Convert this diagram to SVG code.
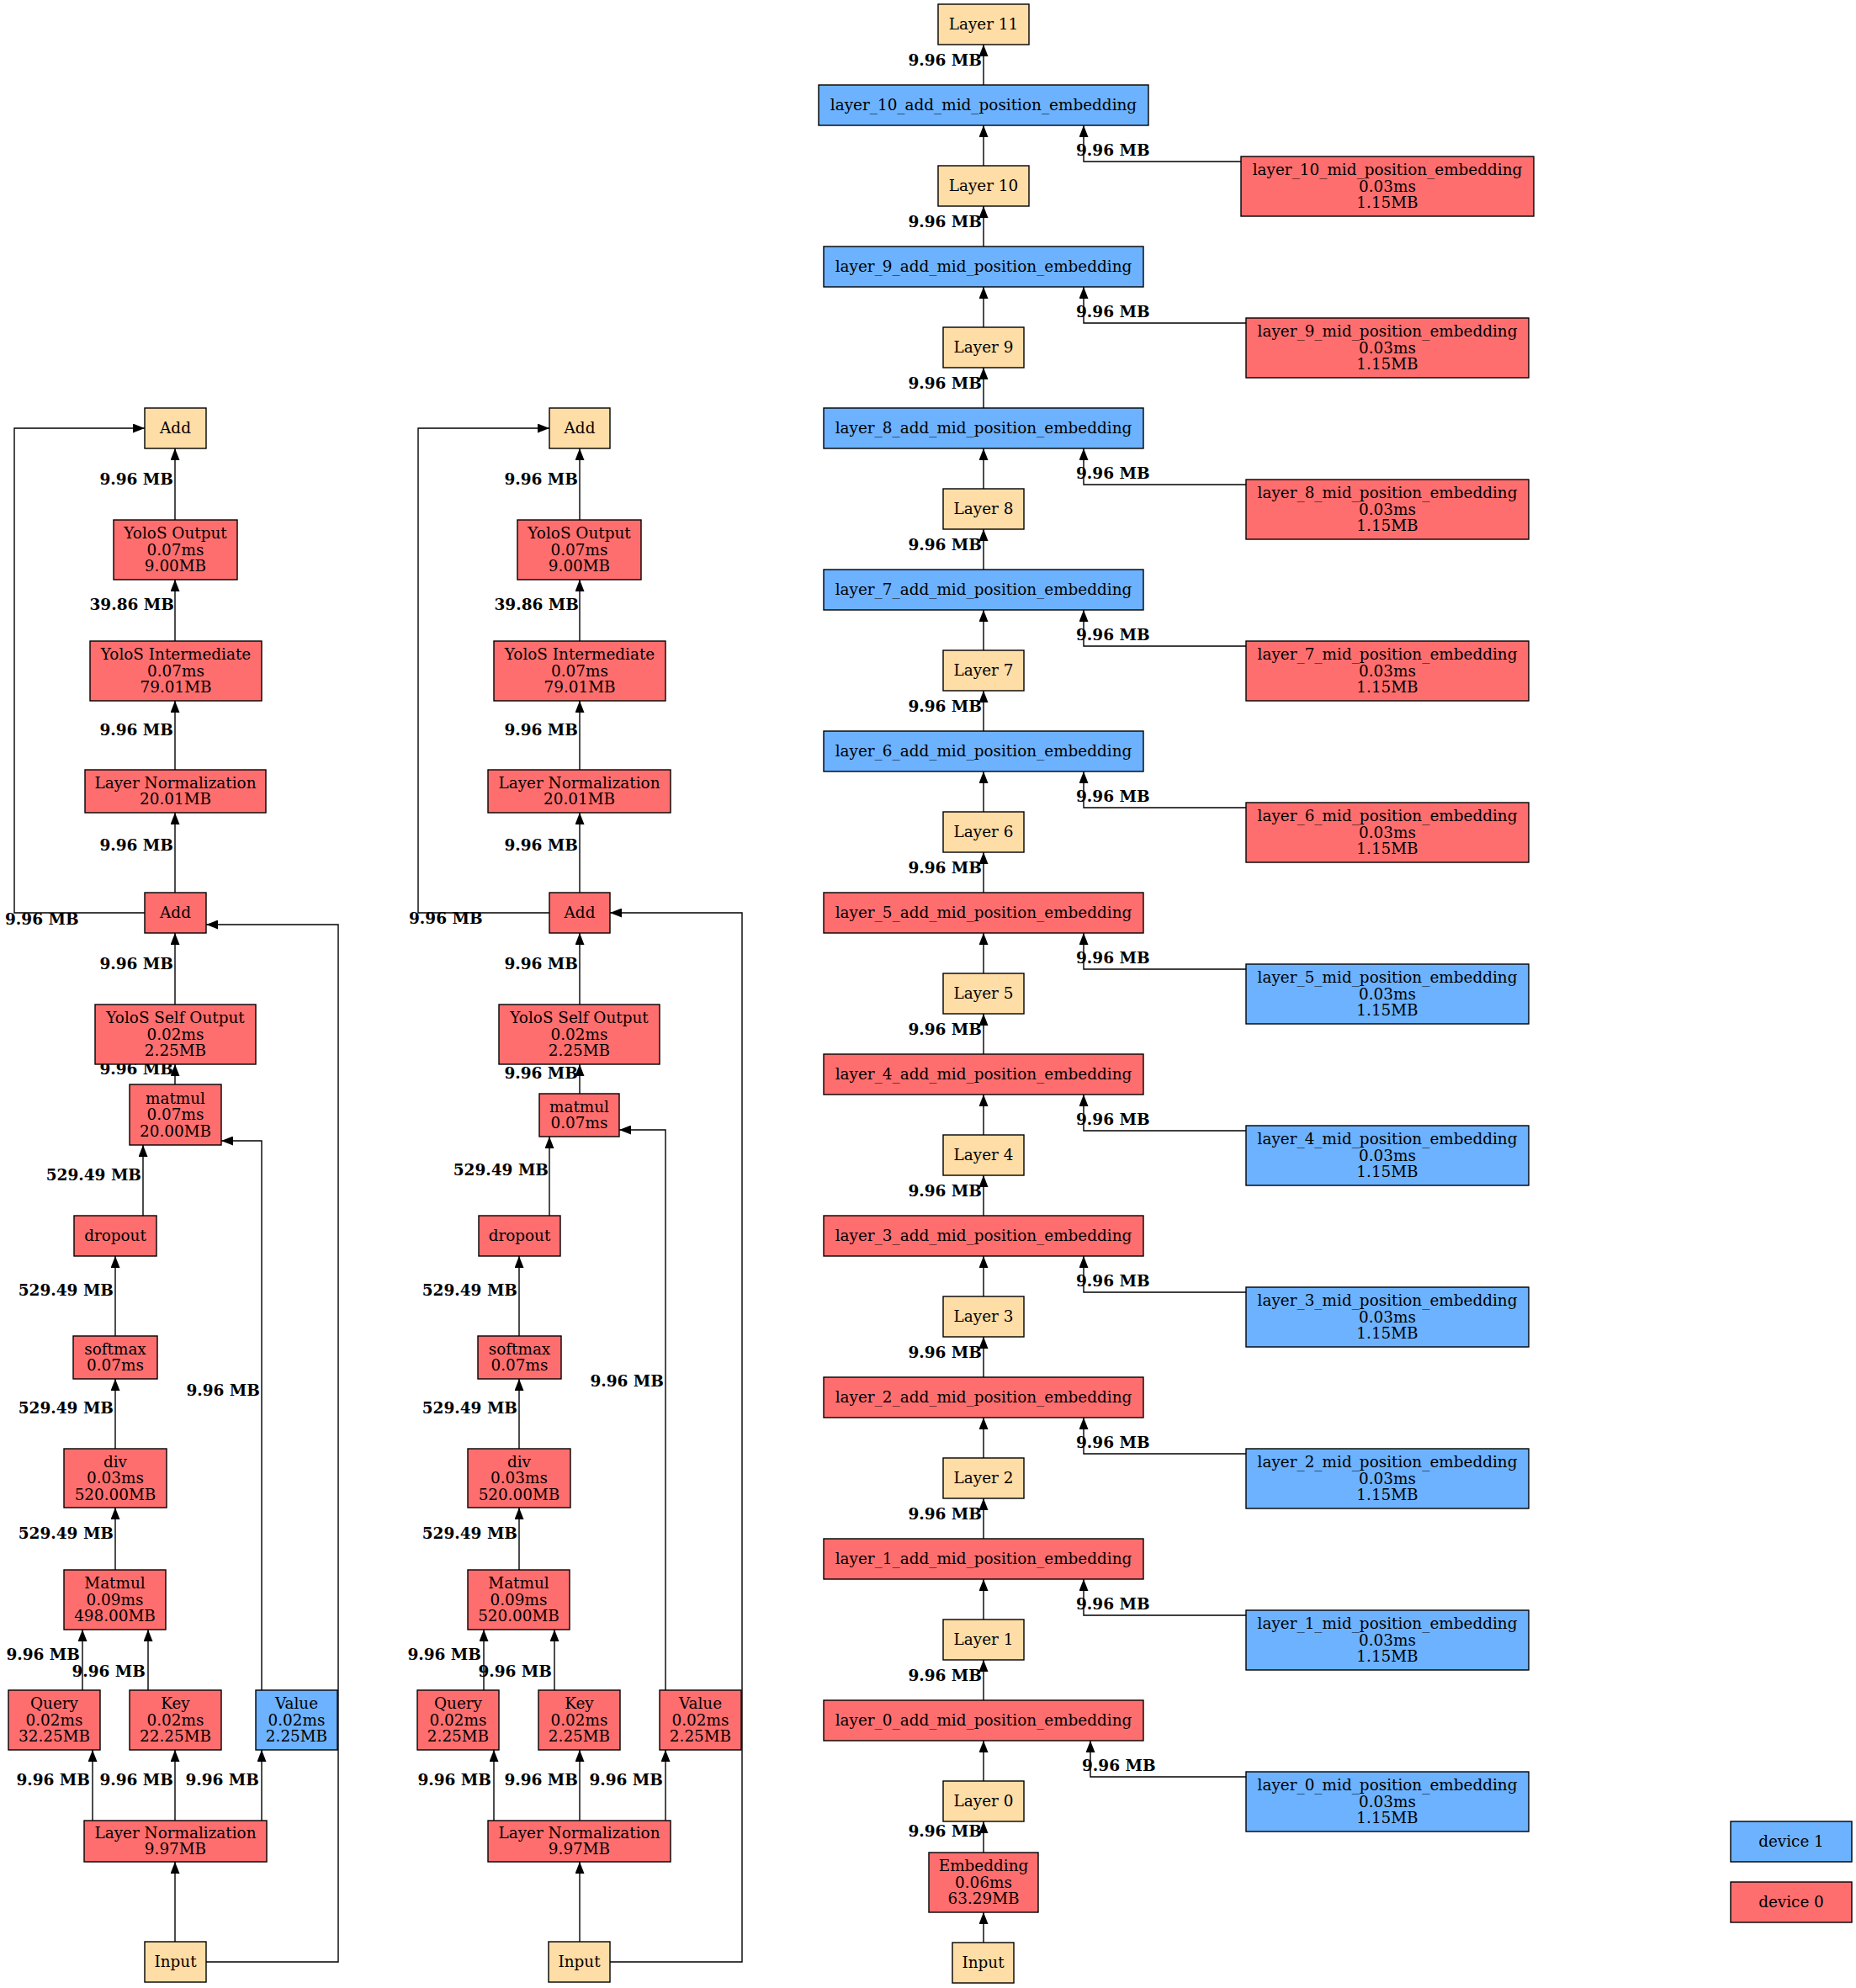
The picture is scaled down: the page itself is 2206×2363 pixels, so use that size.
<svg xmlns="http://www.w3.org/2000/svg" width="2206" height="2363" viewBox="0 0 2206 2363">
<style>
  .bg { fill: #ffffff; }
  .node rect { stroke: #000000; stroke-width: 1.4; }
  .red rect { fill: #ff6e6e; }
  .blue rect { fill: #6cb2ff; }
  .tan rect { fill: #ffdda6; }
  .node text { font-family: "DejaVu Serif", serif; font-size: 18.4px; text-anchor: middle; fill: #000; }
  #edges path { fill: none; stroke: #000000; stroke-width: 1.4; }
  #edges text { font-family: "DejaVu Serif", serif; font-size: 18.5px; font-weight: bold; fill: #000; text-anchor: end; }
  #edges text.s { text-anchor: start; }
</style>
<defs>
  <marker id="ah" markerUnits="userSpaceOnUse" markerWidth="14" markerHeight="11" refX="14" refY="5.5" orient="auto">
    <path d="M0,0 L14,5.5 L0,11 z" fill="#000"/>
  </marker>
</defs>
<rect class="bg" x="0" y="0" width="2206" height="2363"/>

<!-- connectors -->
<g id="edges">
  <!-- left attention block -->
  <path d="M208,2308 V2213" marker-end="url(#ah)"/>
  <path d="M245,2332 H402 V1099 H245" marker-end="url(#ah)"/>
  <path d="M110,2164 V2080" marker-end="url(#ah)"/>
  <path d="M208,2164 V2080" marker-end="url(#ah)"/>
  <path d="M311,2164 V2080" marker-end="url(#ah)"/>
  <path d="M98,2009 V1937" marker-end="url(#ah)"/>
  <path d="M176,2009 V1937" marker-end="url(#ah)"/>
  <path d="M311,2009 V1356 H263" marker-end="url(#ah)"/>
  <path d="M137,1866 V1792" marker-end="url(#ah)"/>
  <path d="M137,1722 V1639" marker-end="url(#ah)"/>
  <path d="M137,1588 V1493" marker-end="url(#ah)"/>
  <path d="M170,1445 V1361" marker-end="url(#ah)"/>
  <path d="M208,1289 V1265" marker-end="url(#ah)"/>
  <path d="M208,1194 V1109" marker-end="url(#ah)"/>
  <path d="M208,1061 V966" marker-end="url(#ah)"/>
  <path d="M172,1085 H17 V509 H172" marker-end="url(#ah)"/>
  <path d="M208,915 V833" marker-end="url(#ah)"/>
  <path d="M208,762 V689" marker-end="url(#ah)"/>
  <path d="M208,618 V533" marker-end="url(#ah)"/>
  <text x="206" y="576">9.96 MB</text>
  <text x="207" y="725">39.86 MB</text>
  <text x="206" y="874">9.96 MB</text>
  <text x="206" y="1011">9.96 MB</text>
  <text x="206" y="1152">9.96 MB</text>
  <text x="206" y="1277">9.96 MB</text>
  <text x="168" y="1403">529.49 MB</text>
  <text x="135" y="1540">529.49 MB</text>
  <text x="135" y="1680">529.49 MB</text>
  <text x="135" y="1829">529.49 MB</text>
  <text x="95" y="1973">9.96 MB</text>
  <text x="173" y="1993">9.96 MB</text>
  <text x="107" y="2122">9.96 MB</text>
  <text x="206" y="2122">9.96 MB</text>
  <text x="308" y="2122">9.96 MB</text>
  <text x="309" y="1659">9.96 MB</text>
  <text class="s" x="6" y="1099">9.96 MB</text>

  <!-- middle attention block -->
  <path d="M689,2308 V2213" marker-end="url(#ah)"/>
  <path d="M725,2332 H882 V1085 H725" marker-end="url(#ah)"/>
  <path d="M587,2164 V2080" marker-end="url(#ah)"/>
  <path d="M689,2164 V2080" marker-end="url(#ah)"/>
  <path d="M791,2164 V2080" marker-end="url(#ah)"/>
  <path d="M575,2009 V1937" marker-end="url(#ah)"/>
  <path d="M659,2009 V1937" marker-end="url(#ah)"/>
  <path d="M791,2009 V1343 H736" marker-end="url(#ah)"/>
  <path d="M617,1866 V1792" marker-end="url(#ah)"/>
  <path d="M617,1722 V1639" marker-end="url(#ah)"/>
  <path d="M617,1588 V1493" marker-end="url(#ah)"/>
  <path d="M653,1445 V1351" marker-end="url(#ah)"/>
  <path d="M689,1300 V1265" marker-end="url(#ah)"/>
  <path d="M689,1194 V1109" marker-end="url(#ah)"/>
  <path d="M689,1061 V966" marker-end="url(#ah)"/>
  <path d="M653,1085 H497 V509 H653" marker-end="url(#ah)"/>
  <path d="M689,915 V833" marker-end="url(#ah)"/>
  <path d="M689,762 V689" marker-end="url(#ah)"/>
  <path d="M689,618 V533" marker-end="url(#ah)"/>
  <text x="687" y="576">9.96 MB</text>
  <text x="688" y="725">39.86 MB</text>
  <text x="687" y="874">9.96 MB</text>
  <text x="687" y="1011">9.96 MB</text>
  <text x="687" y="1152">9.96 MB</text>
  <text x="687" y="1282">9.96 MB</text>
  <text x="652" y="1397">529.49 MB</text>
  <text x="615" y="1540">529.49 MB</text>
  <text x="615" y="1680">529.49 MB</text>
  <text x="615" y="1829">529.49 MB</text>
  <text x="572" y="1973">9.96 MB</text>
  <text x="656" y="1993">9.96 MB</text>
  <text x="584" y="2122">9.96 MB</text>
  <text x="687" y="2122">9.96 MB</text>
  <text x="788" y="2122">9.96 MB</text>
  <text x="789" y="1648">9.96 MB</text>
  <text class="s" x="486" y="1098">9.96 MB</text>

  <!-- layer stack -->
  <path d="M1169,2309 V2273" marker-end="url(#ah)"/>
  <path d="M1169,2202 V2165" marker-end="url(#ah)"/>
  <text x="1167" y="2183">9.96 MB</text>
  <!-- layer k -> add k, add k -> layer k+1 -->
  <path d="M1169,2117 V2069" marker-end="url(#ah)"/>
  <path d="M1169,2021 V1973" marker-end="url(#ah)"/>
  <path d="M1169,1925 V1877" marker-end="url(#ah)"/>
  <path d="M1169,1829 V1781" marker-end="url(#ah)"/>
  <path d="M1169,1733 V1685" marker-end="url(#ah)"/>
  <path d="M1169,1637 V1589" marker-end="url(#ah)"/>
  <path d="M1169,1541 V1493" marker-end="url(#ah)"/>
  <path d="M1169,1445 V1397" marker-end="url(#ah)"/>
  <path d="M1169,1349 V1301" marker-end="url(#ah)"/>
  <path d="M1169,1253 V1205" marker-end="url(#ah)"/>
  <path d="M1169,1157 V1109" marker-end="url(#ah)"/>
  <path d="M1169,1061 V1013" marker-end="url(#ah)"/>
  <path d="M1169,965 V917" marker-end="url(#ah)"/>
  <path d="M1169,869 V821" marker-end="url(#ah)"/>
  <path d="M1169,773 V725" marker-end="url(#ah)"/>
  <path d="M1169,677 V629" marker-end="url(#ah)"/>
  <path d="M1169,581 V533" marker-end="url(#ah)"/>
  <path d="M1169,485 V437" marker-end="url(#ah)"/>
  <path d="M1169,389 V341" marker-end="url(#ah)"/>
  <path d="M1169,293 V245" marker-end="url(#ah)"/>
  <path d="M1169,197 V149" marker-end="url(#ah)"/>
  <path d="M1169,101 V53" marker-end="url(#ah)"/>
  <text x="1167" y="1998">9.96 MB</text>
  <text x="1167" y="1806">9.96 MB</text>
  <text x="1167" y="1614">9.96 MB</text>
  <text x="1167" y="1422">9.96 MB</text>
  <text x="1167" y="1230">9.96 MB</text>
  <text x="1167" y="1038">9.96 MB</text>
  <text x="1167" y="846">9.96 MB</text>
  <text x="1167" y="654">9.96 MB</text>
  <text x="1167" y="462">9.96 MB</text>
  <text x="1167" y="270">9.96 MB</text>
  <text x="1167" y="78">9.96 MB</text>
  <!-- mid position embeddings -> add -->
  <path d="M1481,2112 H1296 V2069" marker-end="url(#ah)"/>
  <path d="M1481,1920 H1288 V1877" marker-end="url(#ah)"/>
  <path d="M1481,1728 H1288 V1685" marker-end="url(#ah)"/>
  <path d="M1481,1536 H1288 V1493" marker-end="url(#ah)"/>
  <path d="M1481,1344 H1288 V1301" marker-end="url(#ah)"/>
  <path d="M1481,1152 H1288 V1109" marker-end="url(#ah)"/>
  <path d="M1481,960 H1288 V917" marker-end="url(#ah)"/>
  <path d="M1481,768 H1288 V725" marker-end="url(#ah)"/>
  <path d="M1481,576 H1288 V533" marker-end="url(#ah)"/>
  <path d="M1481,384 H1288 V341" marker-end="url(#ah)"/>
  <path d="M1475,192 H1288 V149" marker-end="url(#ah)"/>
  <text class="s" x="1286" y="2105">9.96 MB</text>
  <text class="s" x="1279" y="1913">9.96 MB</text>
  <text class="s" x="1279" y="1721">9.96 MB</text>
  <text class="s" x="1279" y="1529">9.96 MB</text>
  <text class="s" x="1279" y="1337">9.96 MB</text>
  <text class="s" x="1279" y="1145">9.96 MB</text>
  <text class="s" x="1279" y="953">9.96 MB</text>
  <text class="s" x="1279" y="761">9.96 MB</text>
  <text class="s" x="1279" y="569">9.96 MB</text>
  <text class="s" x="1279" y="377">9.96 MB</text>
  <text class="s" x="1279" y="185">9.96 MB</text>
</g>

<!-- left attention block nodes -->
<g id="a_add2" class="node tan"><rect x="172" y="485" width="73" height="48"/><text x="208.5" y="515">Add</text></g>
<g id="a_out" class="node red"><rect x="135" y="618" width="147" height="71"/><text x="208.5" y="640">YoloS Output</text><text x="208.5" y="659.5">0.07ms</text><text x="208.5" y="679">9.00MB</text></g>
<g id="a_inter" class="node red"><rect x="107" y="762" width="204" height="71"/><text x="209" y="784">YoloS Intermediate</text><text x="209" y="803.5">0.07ms</text><text x="209" y="823">79.01MB</text></g>
<g id="a_ln2" class="node red"><rect x="101" y="915" width="215" height="51"/><text x="208.5" y="937">Layer Normalization</text><text x="208.5" y="956">20.01MB</text></g>
<g id="a_add1" class="node red"><rect x="172" y="1061" width="73" height="48"/><text x="208.5" y="1091">Add</text></g>
<g id="a_selfout" class="node red"><rect x="113" y="1194" width="191" height="71"/><text x="208.5" y="1216">YoloS Self Output</text><text x="208.5" y="1235.5">0.02ms</text><text x="208.5" y="1255">2.25MB</text></g>
<g id="a_matmul2" class="node red"><rect x="154" y="1289" width="109" height="72"/><text x="208.5" y="1312">matmul</text><text x="208.5" y="1331">0.07ms</text><text x="208.5" y="1350.5">20.00MB</text></g>
<g id="a_dropout" class="node red"><rect x="88" y="1445" width="98" height="48"/><text x="137" y="1475">dropout</text></g>
<g id="a_softmax" class="node red"><rect x="87" y="1588" width="100" height="51"/><text x="137" y="1610">softmax</text><text x="137" y="1629">0.07ms</text></g>
<g id="a_div" class="node red"><rect x="76" y="1722" width="122" height="70"/><text x="137" y="1744">div</text><text x="137" y="1763">0.03ms</text><text x="137" y="1782.5">520.00MB</text></g>
<g id="a_matmul1" class="node red"><rect x="76" y="1866" width="121" height="71"/><text x="136.5" y="1888">Matmul</text><text x="136.5" y="1907.5">0.09ms</text><text x="136.5" y="1927">498.00MB</text></g>
<g id="a_query" class="node red"><rect x="10" y="2009" width="109" height="71"/><text x="64.5" y="2031">Query</text><text x="64.5" y="2050.5">0.02ms</text><text x="64.5" y="2070">32.25MB</text></g>
<g id="a_key" class="node red"><rect x="154" y="2009" width="109" height="71"/><text x="208.5" y="2031">Key</text><text x="208.5" y="2050.5">0.02ms</text><text x="208.5" y="2070">22.25MB</text></g>
<g id="a_value" class="node blue"><rect x="304" y="2009" width="97" height="71"/><text x="352.5" y="2031">Value</text><text x="352.5" y="2050.5">0.02ms</text><text x="352.5" y="2070">2.25MB</text></g>
<g id="a_ln1" class="node red"><rect x="100" y="2164" width="217" height="49"/><text x="208.5" y="2185">Layer Normalization</text><text x="208.5" y="2204">9.97MB</text></g>
<g id="a_input" class="node tan"><rect x="172" y="2308" width="73" height="48"/><text x="208.5" y="2338">Input</text></g>

<!-- middle attention block nodes -->
<g id="b_add2" class="node tan"><rect x="653" y="485" width="72" height="48"/><text x="689" y="515">Add</text></g>
<g id="b_out" class="node red"><rect x="615" y="618" width="147" height="71"/><text x="688.5" y="640">YoloS Output</text><text x="688.5" y="659.5">0.07ms</text><text x="688.5" y="679">9.00MB</text></g>
<g id="b_inter" class="node red"><rect x="587" y="762" width="204" height="71"/><text x="689" y="784">YoloS Intermediate</text><text x="689" y="803.5">0.07ms</text><text x="689" y="823">79.01MB</text></g>
<g id="b_ln2" class="node red"><rect x="580" y="915" width="217" height="51"/><text x="688.5" y="937">Layer Normalization</text><text x="688.5" y="956">20.01MB</text></g>
<g id="b_add1" class="node red"><rect x="653" y="1061" width="72" height="48"/><text x="689" y="1091">Add</text></g>
<g id="b_selfout" class="node red"><rect x="593" y="1194" width="191" height="71"/><text x="688.5" y="1216">YoloS Self Output</text><text x="688.5" y="1235.5">0.02ms</text><text x="688.5" y="1255">2.25MB</text></g>
<g id="b_matmul2" class="node red"><rect x="641" y="1300" width="95" height="51"/><text x="688.5" y="1322">matmul</text><text x="688.5" y="1341">0.07ms</text></g>
<g id="b_dropout" class="node red"><rect x="569" y="1445" width="97" height="48"/><text x="617.5" y="1475">dropout</text></g>
<g id="b_softmax" class="node red"><rect x="568" y="1588" width="99" height="51"/><text x="617.5" y="1610">softmax</text><text x="617.5" y="1629">0.07ms</text></g>
<g id="b_div" class="node red"><rect x="556" y="1722" width="122" height="70"/><text x="617" y="1744">div</text><text x="617" y="1763">0.03ms</text><text x="617" y="1782.5">520.00MB</text></g>
<g id="b_matmul1" class="node red"><rect x="556" y="1866" width="121" height="71"/><text x="616.5" y="1888">Matmul</text><text x="616.5" y="1907.5">0.09ms</text><text x="616.5" y="1927">520.00MB</text></g>
<g id="b_query" class="node red"><rect x="496" y="2009" width="97" height="71"/><text x="544.5" y="2031">Query</text><text x="544.5" y="2050.5">0.02ms</text><text x="544.5" y="2070">2.25MB</text></g>
<g id="b_key" class="node red"><rect x="640" y="2009" width="97" height="71"/><text x="688.5" y="2031">Key</text><text x="688.5" y="2050.5">0.02ms</text><text x="688.5" y="2070">2.25MB</text></g>
<g id="b_value" class="node red"><rect x="784" y="2009" width="97" height="71"/><text x="832.5" y="2031">Value</text><text x="832.5" y="2050.5">0.02ms</text><text x="832.5" y="2070">2.25MB</text></g>
<g id="b_ln1" class="node red"><rect x="580" y="2164" width="217" height="49"/><text x="688.5" y="2185">Layer Normalization</text><text x="688.5" y="2204">9.97MB</text></g>
<g id="b_input" class="node tan"><rect x="652" y="2308" width="73" height="48"/><text x="688.5" y="2338">Input</text></g>

<!-- layer stack nodes -->
<g id="layer11" class="node tan"><rect x="1115" y="5" width="108" height="48"/><text x="1169" y="35">Layer 11</text></g>
<g id="add10" class="node blue"><rect x="973" y="101" width="392" height="48"/><text x="1169" y="131">layer_10_add_mid_position_embedding</text></g>
<g id="layer10" class="node tan"><rect x="1115" y="197" width="108" height="48"/><text x="1169" y="227">Layer 10</text></g>
<g id="mid10" class="node red"><rect x="1475" y="186" width="348" height="71"/><text x="1649" y="208">layer_10_mid_position_embedding</text><text x="1649" y="227.5">0.03ms</text><text x="1649" y="247">1.15MB</text></g>

<g id="add9" class="node blue"><rect x="979" y="293" width="380" height="48"/><text x="1169" y="323">layer_9_add_mid_position_embedding</text></g>
<g id="layer9" class="node tan"><rect x="1121" y="389" width="96" height="48"/><text x="1169" y="419">Layer 9</text></g>
<g id="mid9" class="node red"><rect x="1481" y="378" width="336" height="71"/><text x="1649" y="400">layer_9_mid_position_embedding</text><text x="1649" y="419.5">0.03ms</text><text x="1649" y="439">1.15MB</text></g>

<g id="add8" class="node blue"><rect x="979" y="485" width="380" height="48"/><text x="1169" y="515">layer_8_add_mid_position_embedding</text></g>
<g id="layer8" class="node tan"><rect x="1121" y="581" width="96" height="48"/><text x="1169" y="611">Layer 8</text></g>
<g id="mid8" class="node red"><rect x="1481" y="570" width="336" height="71"/><text x="1649" y="592">layer_8_mid_position_embedding</text><text x="1649" y="611.5">0.03ms</text><text x="1649" y="631">1.15MB</text></g>

<g id="add7" class="node blue"><rect x="979" y="677" width="380" height="48"/><text x="1169" y="707">layer_7_add_mid_position_embedding</text></g>
<g id="layer7" class="node tan"><rect x="1121" y="773" width="96" height="48"/><text x="1169" y="803">Layer 7</text></g>
<g id="mid7" class="node red"><rect x="1481" y="762" width="336" height="71"/><text x="1649" y="784">layer_7_mid_position_embedding</text><text x="1649" y="803.5">0.03ms</text><text x="1649" y="823">1.15MB</text></g>

<g id="add6" class="node blue"><rect x="979" y="869" width="380" height="48"/><text x="1169" y="899">layer_6_add_mid_position_embedding</text></g>
<g id="layer6" class="node tan"><rect x="1121" y="965" width="96" height="48"/><text x="1169" y="995">Layer 6</text></g>
<g id="mid6" class="node red"><rect x="1481" y="954" width="336" height="71"/><text x="1649" y="976">layer_6_mid_position_embedding</text><text x="1649" y="995.5">0.03ms</text><text x="1649" y="1015">1.15MB</text></g>

<g id="add5" class="node red"><rect x="979" y="1061" width="380" height="48"/><text x="1169" y="1091">layer_5_add_mid_position_embedding</text></g>
<g id="layer5" class="node tan"><rect x="1121" y="1157" width="96" height="48"/><text x="1169" y="1187">Layer 5</text></g>
<g id="mid5" class="node blue"><rect x="1481" y="1146" width="336" height="71"/><text x="1649" y="1168">layer_5_mid_position_embedding</text><text x="1649" y="1187.5">0.03ms</text><text x="1649" y="1207">1.15MB</text></g>

<g id="add4" class="node red"><rect x="979" y="1253" width="380" height="48"/><text x="1169" y="1283">layer_4_add_mid_position_embedding</text></g>
<g id="layer4" class="node tan"><rect x="1121" y="1349" width="96" height="48"/><text x="1169" y="1379">Layer 4</text></g>
<g id="mid4" class="node blue"><rect x="1481" y="1338" width="336" height="71"/><text x="1649" y="1360">layer_4_mid_position_embedding</text><text x="1649" y="1379.5">0.03ms</text><text x="1649" y="1399">1.15MB</text></g>

<g id="add3" class="node red"><rect x="979" y="1445" width="380" height="48"/><text x="1169" y="1475">layer_3_add_mid_position_embedding</text></g>
<g id="layer3" class="node tan"><rect x="1121" y="1541" width="96" height="48"/><text x="1169" y="1571">Layer 3</text></g>
<g id="mid3" class="node blue"><rect x="1481" y="1530" width="336" height="71"/><text x="1649" y="1552">layer_3_mid_position_embedding</text><text x="1649" y="1571.5">0.03ms</text><text x="1649" y="1591">1.15MB</text></g>

<g id="add2" class="node red"><rect x="979" y="1637" width="380" height="48"/><text x="1169" y="1667">layer_2_add_mid_position_embedding</text></g>
<g id="layer2" class="node tan"><rect x="1121" y="1733" width="96" height="48"/><text x="1169" y="1763">Layer 2</text></g>
<g id="mid2" class="node blue"><rect x="1481" y="1722" width="336" height="71"/><text x="1649" y="1744">layer_2_mid_position_embedding</text><text x="1649" y="1763.5">0.03ms</text><text x="1649" y="1783">1.15MB</text></g>

<g id="add1" class="node red"><rect x="979" y="1829" width="380" height="48"/><text x="1169" y="1859">layer_1_add_mid_position_embedding</text></g>
<g id="layer1" class="node tan"><rect x="1121" y="1925" width="96" height="48"/><text x="1169" y="1955">Layer 1</text></g>
<g id="mid1" class="node blue"><rect x="1481" y="1914" width="336" height="71"/><text x="1649" y="1936">layer_1_mid_position_embedding</text><text x="1649" y="1955.5">0.03ms</text><text x="1649" y="1975">1.15MB</text></g>

<g id="add0" class="node red"><rect x="979" y="2021" width="380" height="48"/><text x="1169" y="2051">layer_0_add_mid_position_embedding</text></g>
<g id="layer0" class="node tan"><rect x="1121" y="2117" width="96" height="48"/><text x="1169" y="2147">Layer 0</text></g>
<g id="mid0" class="node blue"><rect x="1481" y="2106" width="336" height="71"/><text x="1649" y="2128">layer_0_mid_position_embedding</text><text x="1649" y="2147.5">0.03ms</text><text x="1649" y="2167">1.15MB</text></g>

<g id="embedding" class="node red"><rect x="1104" y="2202" width="130" height="71"/><text x="1169" y="2224">Embedding</text><text x="1169" y="2243.5">0.06ms</text><text x="1169" y="2263">63.29MB</text></g>
<g id="c_input" class="node tan"><rect x="1132" y="2309" width="73" height="48"/><text x="1168.5" y="2339">Input</text></g>

<!-- legend -->
<g id="legend_dev1" class="node blue"><rect x="2057" y="2165" width="144" height="48"/><text x="2129" y="2195">device 1</text></g>
<g id="legend_dev0" class="node red"><rect x="2057" y="2237" width="144" height="48"/><text x="2129" y="2267">device 0</text></g>
</svg>
